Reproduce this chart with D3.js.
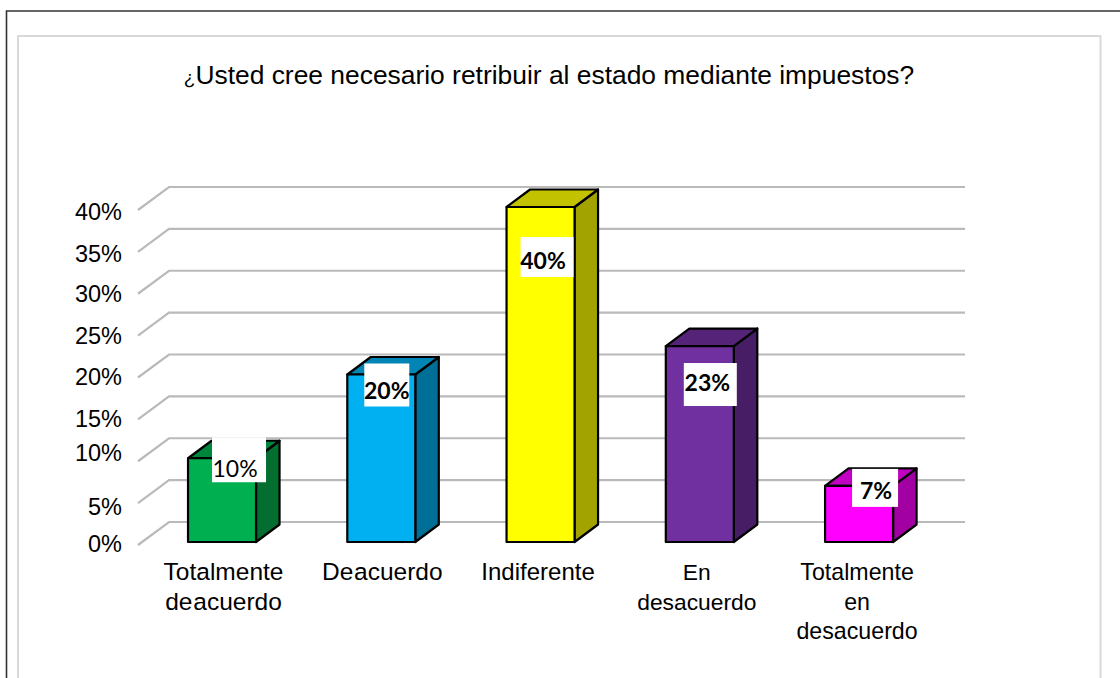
<!DOCTYPE html>
<html>
<head>
<meta charset="utf-8">
<script src="https://cdn.jsdelivr.net/npm/d3@7"></script>
<style>
  html, body { margin: 0; padding: 0; background: #fff; overflow: hidden; }
  text { font-family: "Liberation Sans", Arial, sans-serif; fill: #000; }
</style>
</head>
<body>
<div id="chart"></div>
<script>
const titleMark = "¿";
const title = "Usted cree necesario retribuir al estado mediante impuestos?";
const categories = ["Totalmente de acuerdo", "De acuerdo", "Indiferente", "En desacuerdo", "Totalmente en desacuerdo"];
const categoryLines = [["Totalmente", "de acuerdo"], ["De acuerdo"], ["Indiferente"], ["En", "desacuerdo"], ["Totalmente", "en", "desacuerdo"]];
const values = [10, 20, 40, 23.4, 6.7];
const valueLabels = ["10%", "20%", "40%", "23%", "7%"];
const ticks = [0, 5, 10, 15, 20, 25, 30, 35, 40];
const frontColors = ["#00B050", "#00B0F0", "#FFFF00", "#7030A0", "#FF00FF"];
const topColors = ["#00853C", "#0085B5", "#C2C200", "#552479", "#C200C2"];
const sideColors = ["#036E30", "#006F98", "#A3A300", "#471E66", "#A300A3"];

// hand placed in the original, offset from the top left corner of each bar
const labelOffset = [[24, -21], [17, -11], [14, 30], [18, 17], [27, -17]];
const labelBox = [[54, 45], [45, 43], [53, 40], [53, 43], [46, 38]];
const labelTextShift = [[-4, 9], [0, 6], [-4, 4], [-3, -2], [1, 3]];
const labelBold = [false, true, true, true, true];
const tickNudge = { 40: 4, 35: 4, 30: 3, 25: 3, 20: 2, 15: 2, 10: -6, 5: 6, 0: 1 }; // axis labels are not evenly spaced in the original
const catFontSize = [24.5, 24.5, 24, 22.8, 23.2];
const catShift = [1.5, 1, -2.5, -3, -2];

const svg = d3.select("#chart").append("svg")
  .attr("width", 1120)
  .attr("height", 678);

// frames
svg.append("path")
  .attr("d", "M6.5,678V11H1120")
  .attr("fill", "none")
  .attr("stroke", "#333")
  .attr("stroke-width", 1.6);
svg.append("path")
  .attr("d", "M18,678V36H1100.5V678")
  .attr("fill", "none")
  .attr("stroke", "#d9d9d9")
  .attr("stroke-width", 2);

const titleText = svg.append("text")
  .attr("x", 549)
  .attr("y", 84)
  .attr("text-anchor", "middle")
  .attr("font-size", 26.4);
titleText.append("tspan").attr("font-size", 19).text(titleMark);
titleText.append("tspan").text(title);

const x = d3.scaleBand()
  .domain(categories)
  .range([142.4, 938.7])
  .paddingInner(0.573)
  .paddingOuter(0.2865);
const y = d3.scaleLinear().domain([0, 40]).range([542, 207]);

// wall depth and bar depth
const wall = { dx: 31, dy: -20, fx: 0, fy: 3 };
const depth = { dx: 23.5, dy: -17.5 };
const gridRight = 965;
const gridLeft = 138 + wall.dx;

const grid = svg.append("g");
ticks.forEach(t => {
  const yb = y(t) + wall.dy;
  grid.append("path")
    .attr("d", `M138,${y(t) + wall.fy}L${gridLeft},${yb}L${gridRight},${yb}`)
    .attr("fill", "none")
    .attr("stroke", "#bababa")
    .attr("stroke-width", 2.2);
});

// value axis, labels only
const axis = svg.append("g")
  .attr("transform", "translate(122,0)")
  .call(d3.axisLeft(y).tickValues(ticks).tickFormat(d => d + "%").tickSize(0).tickPadding(0));
axis.select(".domain").remove();
axis.selectAll("text")
  .attr("font-size", 23.5)
  .attr("font-family", "Liberation Sans")
  .attr("dy", "0.35em")
  .attr("transform", d => `translate(0,${tickNudge[d] || 0})`);

// bars
const bars = svg.append("g")
  .selectAll("g")
  .data(categories)
  .join("g")
  .attr("stroke", "#000")
  .attr("stroke-width", 2.2)
  .attr("stroke-linejoin", "round");

bars.append("path")
  .attr("fill", (d, i) => sideColors[i])
  .attr("d", (d, i) => {
    const r = x(d) + x.bandwidth();
    return `M${r},${y(values[i])}l${depth.dx},${depth.dy}V${y(0) + depth.dy}L${r},${y(0)}Z`;
  });
bars.append("path")
  .attr("fill", (d, i) => topColors[i])
  .attr("d", (d, i) => {
    const t = y(values[i]);
    return `M${x(d)},${t}l${depth.dx},${depth.dy}h${x.bandwidth()}l${-depth.dx},${-depth.dy}Z`;
  });
bars.append("rect")
  .attr("fill", (d, i) => frontColors[i])
  .attr("x", d => x(d))
  .attr("y", (d, i) => y(values[i]))
  .attr("width", x.bandwidth())
  .attr("height", (d, i) => y(0) - y(values[i]));

// data labels on white boxes
const labels = svg.append("g")
  .selectAll("g")
  .data(categories)
  .join("g")
  .attr("transform", (d, i) => `translate(${x(d) + labelOffset[i][0]},${y(values[i]) + labelOffset[i][1]})`);
labels.append("rect")
  .attr("fill", "#fff")
  .attr("width", (d, i) => labelBox[i][0])
  .attr("height", (d, i) => labelBox[i][1]);
labels.append("text")
  .attr("x", (d, i) => labelBox[i][0] / 2 + labelTextShift[i][0])
  .attr("y", (d, i) => labelBox[i][1] / 2 + 8 + labelTextShift[i][1])
  .attr("text-anchor", "middle")
  .attr("font-size", 23)
  .attr("font-weight", (d, i) => labelBold[i] ? 700 : 400)
  .style("font-family", "Lato, sans-serif")
  .text((d, i) => valueLabels[i]);

// category labels
const catLabels = svg.append("g")
  .selectAll("text")
  .data(categories)
  .join("text")
  .attr("text-anchor", "middle")
  .attr("font-size", (d, i) => catFontSize[i])
  .attr("word-spacing", -6)
  .attr("transform", (d, i) => `translate(${x(d) + x.bandwidth() / 2 + catShift[i]},580)`);
catLabels.selectAll("tspan")
  .data((d, i) => categoryLines[i])
  .join("tspan")
  .attr("x", 0)
  .attr("dy", (d, i) => i ? 29.5 : 0)
  .text(d => d);
</script>
</body>
</html>
